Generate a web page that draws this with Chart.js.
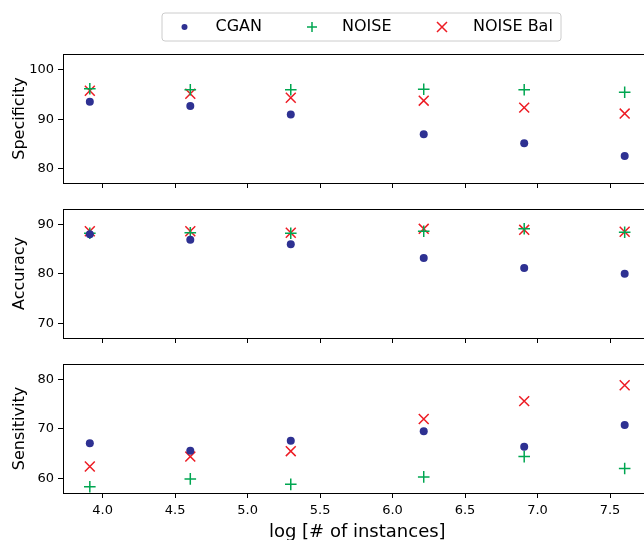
<!DOCTYPE html>
<html>
<head>
<meta charset="utf-8">
<script src="https://cdn.jsdelivr.net/npm/chart.js@4.4.0/dist/chart.umd.min.js"></script>
<style>
  html, body { margin: 0; padding: 0; background: #fff; overflow: hidden; }
  #wrap { position: relative; width: 644px; height: 540px; overflow: hidden; background: #fff; }
  #wrap canvas { position: absolute; left: 0; }
</style>
</head>
<body>
<div id="wrap">
  <canvas id="spec" width="660" height="200" style="top:0px"></canvas>
  <canvas id="acc" width="660" height="171" style="top:189px"></canvas>
  <canvas id="sens" width="660" height="199" style="top:344px"></canvas>
</div>
<script>
// log of training set size
const xValues = [3.912, 4.605, 5.298, 6.215, 6.908, 7.601];
const xTicks = [4.0, 4.5, 5.0, 5.5, 6.0, 6.5, 7.0, 7.5];
const seriesNames = ['CGAN', 'NOISE', 'NOISE Bal'];

const specCGAN  = [93.6, 92.7, 91.0, 87.0, 85.2, 82.6];
const specNoise = [96.2, 96.0, 96.0, 96.1, 96.0, 95.5];
const specBal   = [95.8, 95.2, 94.4, 93.8, 92.4, 91.2];

const accCGAN  = [88.0, 86.9, 86.0, 83.2, 81.2, 80.0];
const accNoise = [88.2, 88.3, 88.2, 88.6, 89.1, 88.4];
const accBal   = [88.6, 88.6, 88.3, 89.1, 88.9, 88.5];

const sensCGAN  = [67.1, 65.6, 67.6, 69.5, 66.4, 70.8];
const sensNoise = [58.3, 59.9, 58.8, 60.3, 64.4, 62.0];
const sensBal   = [62.4, 64.4, 65.5, 72.0, 75.6, 78.8];

const specTicks = [80, 90, 100];
const accTicks  = [70, 80, 90];
const sensTicks = [60, 70, 80];

const colors = ['#2e3192', '#00a651', '#ed1c24'];
const FONT = 'DejaVu Sans';

Chart.defaults.color = '#000';
Chart.defaults.font.family = FONT;

function pts(ys) {
    return xValues.map((x, i) => ({ x: x, y: ys[i] }));
}

function makeDatasets(a, b, c) {
    return [
        { label: seriesNames[0], data: pts(a), pointStyle: 'circle', pointRadius: 4,
          backgroundColor: colors[0], borderColor: colors[0], pointBorderWidth: 0 },
        { label: seriesNames[1], data: pts(b), pointStyle: 'cross', pointRadius: 5.8,
          backgroundColor: colors[1], borderColor: colors[1], pointBorderWidth: 1.5 },
        { label: seriesNames[2], data: pts(c), pointStyle: 'crossRot', pointRadius: 7,
          backgroundColor: colors[2], borderColor: colors[2], pointBorderWidth: 1.5 }
    ];
}

// box around the plot area (all four spines)
const framePlugin = {
    id: 'frame',
    afterDraw(chart) {
        const a = chart.chartArea;
        const ctx = chart.ctx;
        ctx.save();
        ctx.strokeStyle = '#000';
        ctx.lineWidth = 1;
        ctx.strokeRect(a.left + 0.5, a.top + 0.5, a.right - a.left, a.bottom - a.top);
        ctx.restore();
    }
};

function drawMarker(ctx, style, x, y, r, color) {
    ctx.save();
    ctx.fillStyle = color;
    ctx.strokeStyle = color;
    ctx.lineWidth = 1.5;
    ctx.beginPath();
    if (style === 'circle') {
        ctx.arc(x, y, r, 0, Math.PI * 2);
        ctx.fill();
    } else if (style === 'cross') {
        ctx.moveTo(x - r, y); ctx.lineTo(x + r, y);
        ctx.moveTo(x, y - r); ctx.lineTo(x, y + r);
        ctx.stroke();
    } else {
        ctx.moveTo(x - r, y - r); ctx.lineTo(x + r, y + r);
        ctx.moveTo(x - r, y + r); ctx.lineTo(x + r, y - r);
        ctx.stroke();
    }
    ctx.restore();
}

// matplotlib-like legend box above the first panel
const legendPlugin = {
    id: 'mplLegend',
    afterDraw(chart) {
        const ctx = chart.ctx;
        const bx = 162, by = 13, bw = 399, bh = 28, rad = 3;
        ctx.save();
        ctx.beginPath();
        ctx.moveTo(bx + rad, by);
        ctx.arcTo(bx + bw, by, bx + bw, by + bh, rad);
        ctx.arcTo(bx + bw, by + bh, bx, by + bh, rad);
        ctx.arcTo(bx, by + bh, bx, by, rad);
        ctx.arcTo(bx, by, bx + bw, by, rad);
        ctx.closePath();
        ctx.fillStyle = '#fff';
        ctx.fill();
        ctx.strokeStyle = '#cccccc';
        ctx.lineWidth = 1;
        ctx.stroke();

        const markerX = [184.5, 312, 442];
        const textX = [215.5, 342, 473];
        const sizes = [3, 5, 5];
        const cy = 27;
        chart.data.datasets.forEach((ds, i) => {
            drawMarker(ctx, ds.pointStyle, markerX[i], cy, sizes[i], colors[i]);
            ctx.fillStyle = '#000';
            ctx.font = '16px "' + FONT + '"';
            ctx.textBaseline = 'middle';
            ctx.textAlign = 'left';
            ctx.fillText(ds.label, textX[i], cy);
        });
        ctx.restore();
    }
};

function makeChart(id, a, b, c, yMin, yMax, yTicks, yTitle, padTop, xAxisHeight, showX, extra) {
    return new Chart(document.getElementById(id), {
        type: 'scatter',
        data: { datasets: makeDatasets(a, b, c) },
        options: {
            responsive: false,
            animation: false,
            devicePixelRatio: 1,
            layout: { padding: { top: padTop, right: 7, bottom: 0, left: 0 } },
            plugins: { legend: { display: false }, tooltip: { enabled: false } },
            scales: {
                x: {
                    type: 'linear',
                    min: 3.727,
                    max: 7.786,
                    afterBuildTicks: s => { s.ticks = xTicks.map(v => ({ value: v })); },
                    afterFit: s => { s.height = xAxisHeight; },
                    border: { display: false },
                    grid: { display: true, drawOnChartArea: false, drawTicks: true,
                            tickLength: 5, color: '#000', lineWidth: 1 },
                    ticks: { display: showX, padding: 5, maxRotation: 0, autoSkip: false,
                             font: { size: 13 }, callback: v => v.toFixed(1) },
                    title: { display: showX, text: 'log [# of instances]',
                             font: { size: 18 }, padding: { top: 0, bottom: 0 } }
                },
                y: {
                    min: yMin,
                    max: yMax,
                    afterBuildTicks: s => { s.ticks = yTicks.map(v => ({ value: v })); },
                    afterFit: s => { s.width = 63; },
                    border: { display: false },
                    grid: { display: true, drawOnChartArea: false, drawTicks: true,
                            tickLength: 5, color: '#000', lineWidth: 1 },
                    ticks: { padding: 4, font: { size: 13 }, callback: v => String(v) },
                    title: { display: true, text: yTitle, font: { size: 16 },
                             padding: { top: 10, bottom: 0 } }
                }
            }
        },
        plugins: [framePlugin].concat(extra || [])
    });
}

makeChart('spec', specCGAN, specNoise, specBal, 77.17, 103.23, specTicks, 'Specificity', 54, 17, false, [legendPlugin]);
makeChart('acc', accCGAN, accNoise, accBal, 67.05, 93.1, accTicks, 'Accuracy', 20, 22, false);
makeChart('sens', sensCGAN, sensNoise, sensBal, 57.05, 83.1, sensTicks, 'Sensitivity', 20, 50, true);
</script>
</body>
</html>
